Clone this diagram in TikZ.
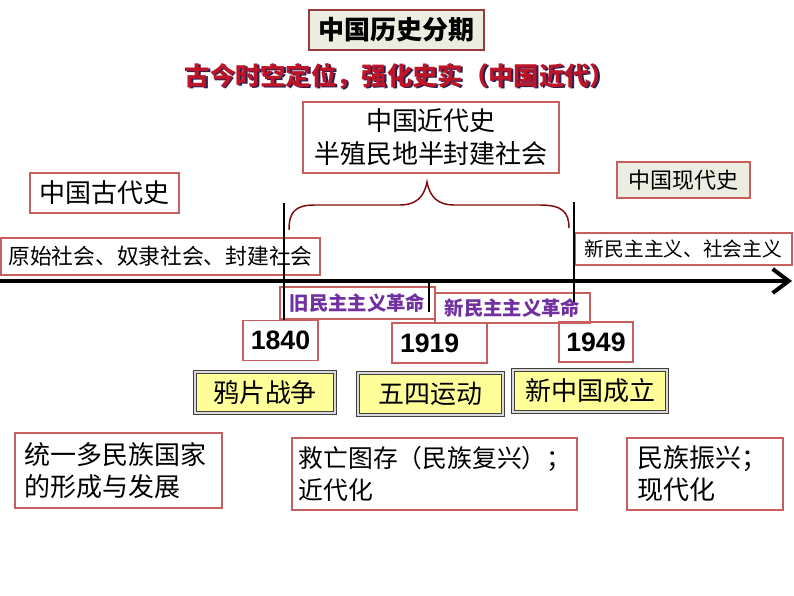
\documentclass[tikz,border=0pt]{standalone}
\usepackage{fontspec}
\setmainfont{Noto Sans CJK SC}
\newfontfamily\arialfont{Liberation Sans}
\usetikzlibrary{arrows.meta}
\definecolor{boxred}{RGB}{200,95,95}
\definecolor{titlered}{RGB}{190,20,40}
\definecolor{shadowblue}{RGB}{40,30,80}
\definecolor{bracered}{RGB}{128,10,10}
\definecolor{greyfill}{RGB}{236,236,224}
\definecolor{revpurple}{RGB}{112,48,160}
\definecolor{eventyellow}{RGB}{255,255,153}
\newcommand\fs[2]{\fontsize{#1}{#2}\selectfont}
\begin{document}
\begin{tikzpicture}[x=0.75pt,y=-0.75pt,
 wh/.style 2 args={minimum width=#1*0.75pt,minimum height=#2*0.75pt},
 box/.style={draw=boxred,line width=0.8pt,inner sep=0pt},
 leftbox/.style={box,inner xsep=7.5pt,align=left,text width=#1*0.75pt-15pt},
 eventbox/.style={draw=black!75,double=gray!30,double distance=0.9pt,line width=1pt,
  fill=eventyellow,inner sep=0pt,font=\fs{19.5}{24}},
 yearbox/.style={box,font=\arialfont\bfseries\fs{20}{24}},
 revbox/.style={box,text=revpurple,font=\bfseries\fs{14.5}{18}},
 tick/.style={line width=1.5pt}]
 \useasboundingbox (0,0) rectangle (794,596);
 \node[box,draw=bracered!80,fill=greyfill,wh={175}{40},font=\bfseries\fs{19.5}{24}] (title) at (396.5,30) {中国历史分期};
 \node[text=shadowblue,font=\bfseries\fs{19}{24}] (subshadow) at (401.8,77.8) {古今时空定位，强化史实（中国近代）};
 \node[text=titlered,font=\bfseries\fs{19}{24}] (sub) at (400,76) {古今时空定位，强化史实（中国近代）};
 \node[box,wh={256}{71},align=center,font=\fs{19.5}{24.75}] (jindai) at (431,137.5) {中国近代史\\半殖民地半封建社会};
 \draw[bracered,line width=1.1pt] (289,230) .. controls (289,212) and (295,205) .. (315,205) -- (400,205)
  .. controls (415,205) and (424,198) .. (427,182) .. controls (430,198) and (439,205) .. (454,205) -- (540,205)
  .. controls (562,205) and (569,212) .. (569,228);
 \node[box,wh={149}{40},font=\fs{19.5}{24}] (gudai) at (104.5,193) {中国古代史};
 \node[box,fill=greyfill,wh={133}{36},font=\fs{16.5}{20}] (xiandai) at (683.5,180) {中国现代史};
 \node[box,wh={319}{37},font=\fs{16.3}{20}] (gushehui) at (160.5,256.5) {原始社会、奴隶社会、封建社会};
 \node[box,wh={217}{32},font=\fs{14.8}{18}] (xinshehui) at (683.5,249) {新民主主义、社会主义};
 \node[revbox,wh={155}{32}] (jiuge) at (357.5,303) {旧民主主义革命};
 \node[revbox,wh={155}{30}] (xinge) at (512.5,308) {新民主主义革命};
 \node[yearbox,wh={75}{40}] (y1840) at (280.5,340.5) {1840};
 \node[yearbox,wh={95}{40},inner xsep=6pt,align=left,text width=95*0.75pt-12pt] (y1919) at (439.5,343) {1919};
 \node[yearbox,wh={74}{40}] (y1949) at (596,342) {1949};
 \node[eventbox,wh={140}{41}] (yapian) at (265,392.5) {鸦片战争};
 \node[eventbox,wh={145}{42}] (wusi) at (430.5,394) {五四运动};
 \node[eventbox,wh={154}{42}] (xinzhongguo) at (590,391) {新中国成立};
 \node[leftbox=207,wh={207}{75},font=\fs{19.5}{24}] (tongyi) at (118.5,470.5) {统一多民族国家\\的形成与发展};
 \node[leftbox=285,inner xsep=5pt,text width=285*0.75pt-10pt,wh={285}{72},font=\fs{18.6}{24}] (jiuwang) at (434.5,474) {救亡图存（民族复兴）；\\近代化};
 \node[leftbox=156,wh={156}{72},font=\fs{19.5}{24}] (zhenxing) at (705,474) {民族振兴；\\现代化};
 \coordinate (ax0) at (0,281);
 \coordinate (ax1) at (792,281);
 \coordinate (t1840) at (284,203);
 \coordinate (t1919) at (429,281);
 \coordinate (t1949) at (574,202);
 \draw[line width=3pt,-{Straight Barb[length=12pt,width=18pt]}] (ax0) -- (ax1);
 \draw[tick] (t1840) -- (t1840 |- y1840.north);
 \draw[tick] (t1919) -- ++(0,31);
 \draw[tick] (t1949) -- ++(0,100);
\end{tikzpicture}
\end{document}
